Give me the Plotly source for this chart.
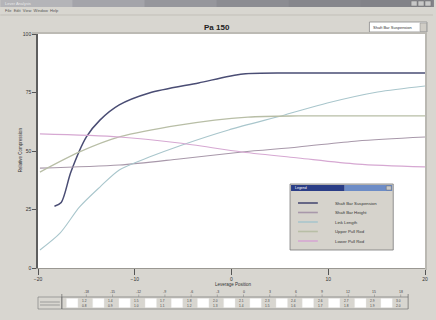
import plotly.graph_objects as go

W, H = 436, 320
PL, PR, PT, PB = 38, 428, 34, 268  # plot box in page pixels

# ---- series (lever position vs relative compression) ----
x_susp = [-18.3, -17.6, -16.6, -15.0, -13.6, -11.6, -8.5, -3.4, 1.2, 6.9, 13.0, 20.0]
y_susp = [26.4, 28.0, 41.0, 56.0, 63.2, 69.7, 74.8, 79.1, 82.9, 83.3, 83.3, 83.3]

x_height = [-19.8, -15.7, -11.6, -5.4, 1.7, 6.9, 13.0, 20.0]
y_height = [41.0, 49.6, 56.0, 61.1, 64.5, 65.0, 65.0, 65.0]

x_link = [-19.8, -17.7, -15.7, -13.6, -11.6, -8.5, -5.1, -0.3, 5.5, 9.9, 15.1, 20.0]
y_link = [7.7, 15.0, 26.1, 34.6, 41.9, 47.4, 52.6, 59.0, 65.4, 70.5, 75.2, 77.8]

x_upper = [-19.8, -11.6, -5.4, 1.1, 6.9, 13.0, 20.0]
y_upper = [42.7, 44.0, 46.6, 49.6, 51.7, 54.3, 56.0]

x_lower = [-19.8, -11.6, -5.4, 1.1, 6.9, 13.0, 20.0]
y_lower = [57.3, 56.0, 53.4, 49.6, 47.0, 44.4, 43.2]

series_names = ["Shaft Bar Suspension", "Shaft Bar Height", "Link Length",
                "Upper Pull Rod", "Lower Pull Rod"]
series_x = [x_susp, x_upper, x_link, x_height, x_lower]
series_y = [y_susp, y_upper, y_link, y_height, y_lower]
series_colors = ["#4a4d74", "#a898aa", "#a9c6cc", "#b8bea6", "#d6a8d2"]
series_widths = [1.5, 1.1, 1.1, 1.3, 1.1]

x_ticks = [-20, -10, 0, 10, 20]
y_ticks = [0, 25, 50, 75, 100]

# lever hole strip under the chart
strip_top = ["-18", "-15", "-12", "-9", "-6", "-3", "0", "3", "6", "9", "12", "15", "18"]
strip_hi = ["1.2", "1.4", "1.5", "1.7", "1.8", "2.0", "2.1", "2.3", "2.4", "2.6", "2.7", "2.9", "3.0"]
strip_lo = ["0.8", "0.9", "1.0", "1.1", "1.2", "1.3", "1.4", "1.5", "1.6", "1.7", "1.8", "1.9", "2.0"]

FONT = "Liberation Sans, Arial, sans-serif"
BG = "#d8d6d0"


def fx(p):
    return (p - PL) / (PR - PL)


def fy(p):
    return (PB - p) / (PB - PT)


fig = go.Figure()
for name, xs, ys, c, w in zip(series_names, series_x, series_y, series_colors, series_widths):
    fig.add_trace(go.Scatter(x=xs, y=ys, mode="lines", name=name,
                             line=dict(color=c, width=w, shape="spline", smoothing=0.8),
                             hoverinfo="skip", showlegend=False))

shapes = []
ann = []


def rect(x0, y0, x1, y1, fill, line="rgba(0,0,0,0)", lw=0, layer="above"):
    shapes.append(dict(type="rect", xref="paper", yref="paper",
                       x0=fx(x0), x1=fx(x1), y0=fy(y1), y1=fy(y0),
                       fillcolor=fill, line=dict(color=line, width=lw), layer=layer))


def hline(x0, x1, y, color, w=1):
    shapes.append(dict(type="line", xref="paper", yref="paper",
                       x0=fx(x0), x1=fx(x1), y0=fy(y), y1=fy(y),
                       line=dict(color=color, width=w)))


def vline(x, y0, y1, color, w=1):
    shapes.append(dict(type="line", xref="paper", yref="paper",
                       x0=fx(x), x1=fx(x), y0=fy(y0), y1=fy(y1),
                       line=dict(color=color, width=w)))


def text(x, y, s, size=5, color="#333333", xa="center", bold=False, angle=0):
    ann.append(dict(xref="paper", yref="paper", x=fx(x), y=fy(y),
                    text=f"<b>{s}</b>" if bold else s, showarrow=False,
                    xanchor=xa, yanchor="middle", textangle=angle,
                    font=dict(family=FONT, size=size, color=color)))


# window caption bar
caption = ["#b4b4b8", "#a4a4aa", "#96969c", "#8c8c92", "#86868c", "#828288"]
seg = W / len(caption)
for i, c in enumerate(caption):
    rect(i * seg, 0, (i + 1) * seg + 1, 7, c, layer="below")
text(3, 3.5, "Lever Analysis", size=4, color="#e8e8e8", xa="left")
for i, bx in enumerate([414, 421, 428]):
    rect(bx, 1, bx + 6, 6, "#c8c8c8", "#707070", 0.5)
# menu row
text(3, 11, "File  Edit  View  Window  Help", size=4, color="#555555", xa="left")
hline(0, W, 15, "#c2bfb8", 1)

# chart heading and series selector
text(218, 27, "Pa 150", size=8, color="#222222", bold=True)
rect(372, 22, 430, 32, "#ffffff", "#8a8a8a", 0.8)
text(374, 27, "Shaft Bar Suspension", size=4, color="#333333", xa="left")
rect(423, 23, 429.5, 31.5, "#d0cdc6", "#8a8a8a", 0.5)

# plot frame
hline(PL - 6, PR + 2, PT - 1, "#bcbab4", 2)
vline(PR + 1, PT - 1, PB + 2, "#bab8b2", 2)

# axis titles
text(20, 150, "Relative Compression", size=4.5, color="#333333", angle=-90)
text(235, 284, "Leverage Position", size=4.5, color="#333333")

# floating legend window
LX0, LY0, LX1, LY1 = 292, 184, 396, 250
rect(LX0, LY0, LX1, LY1, "#d6d3cc", "#7a7a7a", 0.8)
rect(LX0 + 1, LY0 + 1, LX0 + 55, LY0 + 7, "#2a3d86")
rect(LX0 + 55, LY0 + 1, LX1 - 1, LY0 + 7, "#6d8cc6")
text(LX0 + 3, LY0 + 4, "Legend", size=3.5, color="#ffffff", xa="left")
rect(LX1 - 7, LY0 + 2, LX1 - 2, LY0 + 6, "#c8c8c8", "#606060", 0.4)
leg_y = [203, 212.5, 222, 231.5, 241]
for name, c, yy in zip(series_names, series_colors, leg_y):
    shapes.append(dict(type="line", xref="paper", yref="paper",
                       x0=fx(300), x1=fx(320), y0=fy(yy), y1=fy(yy),
                       line=dict(color=c, width=1.6)))
    text(335, yy, name, size=4.3, color="#333333", xa="left")

# lever hole strip
SX0, SX1, SY0, SY1 = 62, 411, 297, 309
rect(38, SY0, SX0, SY1, BG, "#777777", 0.6)
hline(40, SX0 - 2, 302, "#777777", 0.6)
hline(40, SX0 - 2, 305, "#777777", 0.6)
hline(SX0, SX1, SY0, "#777777", 0.7)
hline(SX0, SX1, SY1, "#777777", 0.7)
vline(SX0, SY0 - 3, SY1, "#666666", 0.7)
vline(SX1, SY0 - 3, SY1, "#666666", 0.7)
step = 26.4
for i in range(13):
    bx = 66.7 + step * i
    rect(bx, 298.5, bx + 11.5, 307.5, "#ffffff", "#e8e8e8", 0.3)
    cx = bx + 11.5 + 6.5
    text(cx, 300.5, strip_hi[i], size=3.2, color="#444444")
    text(cx, 306, strip_lo[i], size=3.2, color="#444444")
    text(cx + 2, 292, strip_top[i], size=3.5, color="#444444")
    vline(cx + 2, 294.5, SY0, "#888888", 0.6)

fig.update_layout(
    width=W, height=H,
    margin=dict(l=PL, r=W - PR, t=PT, b=H - PB),
    paper_bgcolor=BG, plot_bgcolor="#ffffff",
    font=dict(family=FONT, size=5, color="#333333"),
    shapes=shapes, annotations=ann, showlegend=False,
    xaxis=dict(range=[-20, 20], tickvals=x_ticks, ticks="outside", ticklen=6,
               tickcolor="#555555", tickwidth=1.4, showgrid=False, zeroline=False,
               showline=True, linecolor="#9a9892", linewidth=1.2,
               tickfont=dict(size=5, color="#333333")),
    yaxis=dict(range=[0, 100], tickvals=y_ticks, ticks="outside", ticklen=4,
               tickcolor="#555555", tickwidth=1.4, showgrid=False, zeroline=False,
               showline=True, linecolor="#5e5e5e", linewidth=1.6,
               tickfont=dict(size=5, color="#333333")),
)

fig.write_html("out.html")
